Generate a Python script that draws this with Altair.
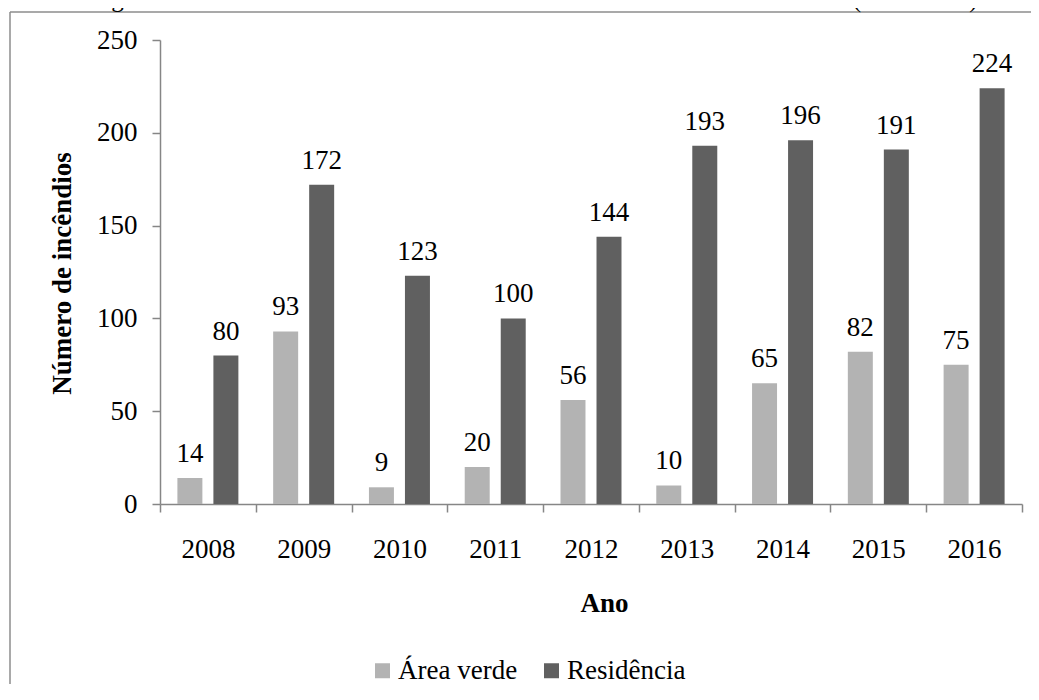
import altair as alt
import pandas as pd

years = ["2008", "2009", "2010", "2011", "2012", "2013", "2014", "2015", "2016"]
series = ["Área verde", "Residência"]
area_verde = [14, 93, 9, 20, 56, 10, 65, 82, 75]
residencia = [80, 172, 123, 100, 144, 193, 196, 191, 224]
colors = ["#b3b3b3", "#606060"]
y_ticks = [0, 50, 100, 150, 200, 250]
title_text = "Figura 15- Estatística anual de atendimento a incêndios na cidade de Belém (2008-2016)"

rows = []
for i, y in enumerate(years):
    rows.append({"ano": y, "serie": series[0], "valor": area_verde[i]})
    rows.append({"ano": y, "serie": series[1], "valor": residencia[i]})
df = pd.DataFrame(rows)

FONT = "Liberation Serif"
AXIS_COLOR = "#868686"

x_enc = alt.X(
    "ano:N",
    sort=years,
    scale=alt.Scale(paddingInner=0, paddingOuter=0),
    axis=alt.Axis(
        title="Ano",
        labelAngle=0,
        tickBand="extent",
        tickSize=8,
        labelPadding=45,
        labelBaseline="alphabetic",
        titleX=444,
        titleY=107,
        titleBaseline="alphabetic",
        titleAlign="center",
    ),
)
xoff = alt.XOffset(
    "serie:N", sort=series, scale=alt.Scale(paddingInner=0.306, paddingOuter=0.483)
)
y_enc = alt.Y(
    "valor:Q",
    scale=alt.Scale(domain=[0, 250], nice=False),
    axis=alt.Axis(
        title="Número de incêndios",
        values=y_ticks,
        grid=False,
        tickSize=8,
        labelPadding=15,
        titleAngle=270,
        titleX=-90,
        titleY=233,
        titleBaseline="alphabetic",
        titleAlign="center",
    ),
)
color_enc = alt.Color(
    "serie:N",
    sort=series,
    scale=alt.Scale(domain=series, range=colors),
    legend=alt.Legend(
        title=None,
        orient="none",
        direction="horizontal",
        legendX=209,
        legendY=617,
        symbolType="square",
        symbolSize=225,
        symbolStrokeWidth=0,
        symbolOpacity=1,
        labelFontSize=27,
        labelFont=FONT,
        labelColor="#000000",
        labelOffset=2,
        columnPadding=20,
        padding=0,
    ),
)

bars = alt.Chart(df).mark_bar().encode(x=x_enc, xOffset=xoff, y=y_enc, color=color_enc)

labels = alt.Chart(df).mark_text(
    dy=-16, baseline="alphabetic", align="center", font=FONT, fontSize=27, color="#000000"
).encode(
    x=alt.X("ano:N", sort=years),
    xOffset=alt.XOffset("serie:N", sort=series),
    y="valor:Q",
    text="valor:Q",
)

one = pd.DataFrame({"k": [0]})
frame_left = alt.Chart(one).mark_rule(color="#8c8c8c", strokeWidth=1.5).encode(
    x=alt.value(-150), y=alt.value(-28), y2=alt.value(700)
)
frame_top = alt.Chart(one).mark_rule(color="#8c8c8c", strokeWidth=1.5).encode(
    x=alt.value(-150), x2=alt.value(900), y=alt.value(-28)
)
title_mark = alt.Chart(pd.DataFrame({"t": [title_text]})).mark_text(
    font=FONT, fontSize=25, baseline="alphabetic", align="center", color="#000000"
).encode(x=alt.value(374), y=alt.value(-33), text="t:N")

chart = (
    alt.layer(frame_left, frame_top, title_mark, bars, labels)
    .properties(
        width=862,
        height=464,
        autosize=alt.AutoSizeParams(type="none"),
        padding={"left": 152, "top": 32, "right": 9, "bottom": 180},
    )
    .configure_view(stroke=None)
    .configure_axis(
        domainColor=AXIS_COLOR,
        tickColor=AXIS_COLOR,
        domainWidth=1.5,
        tickWidth=1.5,
        labelFont=FONT,
        labelFontSize=27,
        labelColor="#000000",
        titleFont=FONT,
        titleFontSize=27,
        titleFontWeight="bold",
        titleColor="#000000",
    )
)

chart.save("out.html", embed_options={"renderer": "svg", "actions": False})
